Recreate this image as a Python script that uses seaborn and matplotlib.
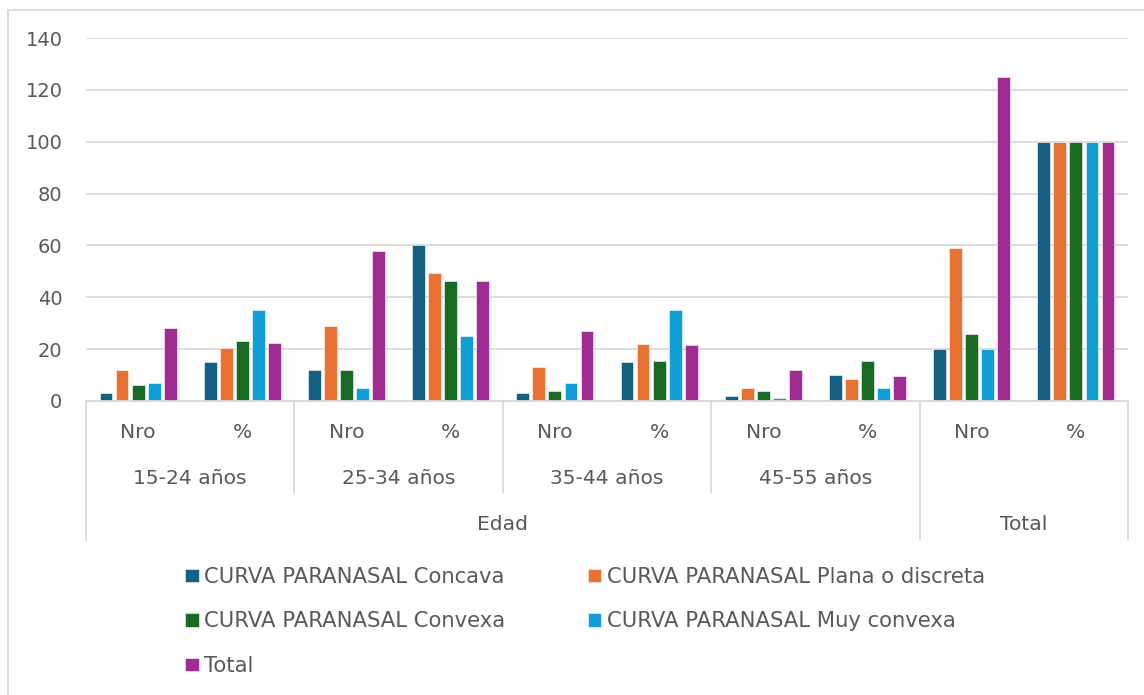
import matplotlib
matplotlib.use("Agg")
import matplotlib.pyplot as plt
import seaborn as sns
import pandas as pd
from matplotlib.lines import Line2D

# ---- data ----
categories = ["15-24 Nro", "15-24 %", "25-34 Nro", "25-34 %", "35-44 Nro", "35-44 %",
              "45-55 Nro", "45-55 %", "Total Nro", "Total %"]
sub_labels = ["Nro", "%", "Nro", "%", "Nro", "%", "Nro", "%", "Nro", "%"]
age_groups = ["15-24 años", "25-34 años", "35-44 años", "45-55 años"]
top_groups = ["Edad", "Total"]
series_names = ["CURVA PARANASAL Concava", "CURVA PARANASAL Plana o discreta",
                "CURVA PARANASAL Convexa", "CURVA PARANASAL Muy convexa", "Total"]
concava = [3, 15, 12, 60, 3, 15, 2, 10, 20, 100]
plana = [12, 20.3, 29, 49.2, 13, 22.0, 5, 8.5, 59, 100]
convexa = [6, 23.1, 12, 46.2, 4, 15.4, 4, 15.4, 26, 100]
muy_convexa = [7, 35, 5, 25, 7, 35, 1, 5, 20, 100]
total = [28, 22.4, 58, 46.4, 27, 21.6, 12, 9.6, 125, 100]
colors = ["#156082", "#E97132", "#196B24", "#0F9ED5", "#A02B93"]

rows = []
for name, vals in zip(series_names, [concava, plana, convexa, muy_convexa, total]):
    for cat, v in zip(categories, vals):
        rows.append({"cat": cat, "serie": name, "valor": v})
df = pd.DataFrame(rows)

sns.set_theme(style="white")
FONT = ["DejaVu Sans"]
plt.rcParams["font.family"] = FONT
TXT = "#595959"
GRID = "#D9D9D9"
FS = 14
FS_CAT = 14.6
FS_LEG = 15.2

W, H = 1144, 695
fig = plt.figure(figsize=(W / 100, H / 100), dpi=100)
ax_left, ax_right, ax_top, ax_bot = 86, 1128, 38, 401
ax = fig.add_axes([ax_left / W, 1 - ax_bot / H, (ax_right - ax_left) / W, (ax_bot - ax_top) / H])

sns.barplot(data=df, x="cat", y="valor", hue="serie", order=categories, hue_order=series_names,
            palette=colors, width=0.77, gap=0.2, ax=ax, edgecolor="white", linewidth=0.4,
            saturation=1)

ax.set_xlim(-0.5, len(categories) - 0.5)
ax.set_ylim(0, 140)
ax.set_yticks(range(0, 141, 20))
ax.yaxis.grid(True, color=GRID, linewidth=1.3)
ax.set_axisbelow(True)
ax.tick_params(axis="y", length=0, pad=17, labelsize=FS, labelcolor=TXT)
ax.set_xticks([])
ax.set_xlabel("")
ax.set_ylabel("")
for s in ["top", "right", "left"]:
    ax.spines[s].set_visible(False)
ax.spines["bottom"].set_color(GRID)
ax.spines["bottom"].set_linewidth(1.3)

# ---- multi-level category axis ----
axh = ax_bot - ax_top
def yf(py):
    return (ax_bot - py) / axh

tr = ax.get_xaxis_transform()
for i, lab in enumerate(sub_labels):
    ax.text(i, yf(433), lab, transform=tr, ha="center", va="center", fontsize=FS_CAT, color=TXT,
            clip_on=False)
for j, lab in enumerate(age_groups):
    ax.text(2 * j + 0.5, yf(479), lab, transform=tr, ha="center", va="center", fontsize=FS_CAT,
            color=TXT, clip_on=False)
ax.text(3.5, yf(524), top_groups[0], transform=tr, ha="center", va="center", fontsize=FS_CAT,
        color=TXT, clip_on=False)
ax.text(8.5, yf(524), top_groups[1], transform=tr, ha="center", va="center", fontsize=FS_CAT,
        color=TXT, clip_on=False)

for xb in [1.5, 3.5, 5.5]:
    ax.add_line(Line2D([xb, xb], [0, yf(493)], transform=tr, color=GRID, lw=1.3, clip_on=False))
for xb in [-0.5, 7.5, 9.5]:
    ax.add_line(Line2D([xb, xb], [0, yf(540)], transform=tr, color=GRID, lw=1.3, clip_on=False))

# ---- legend ----
handles, labels = ax.get_legend_handles_labels()
ax.get_legend().remove()
order = [0, 2, 4, 1, 3]
fig.legend([handles[k] for k in order], [labels[k] for k in order], loc="upper left",
           bbox_to_anchor=(185 / W, 1 - 567 / H), ncol=2, frameon=False, fontsize=FS_LEG,
           labelcolor=TXT, handlelength=0.64, handleheight=0.6, handletextpad=0.28,
           columnspacing=3.9, labelspacing=1.16, borderaxespad=0, borderpad=0)

# ---- outer border (left & top visible) ----
fig.add_artist(Line2D([8 / W, 8 / W], [0, 1 - 10 / H], transform=fig.transFigure, color=GRID, lw=1.3))
fig.add_artist(Line2D([8 / W, 1], [1 - 10 / H, 1 - 10 / H], transform=fig.transFigure, color=GRID, lw=1.3))

fig.savefig("out.png", dpi=100, facecolor="white")
